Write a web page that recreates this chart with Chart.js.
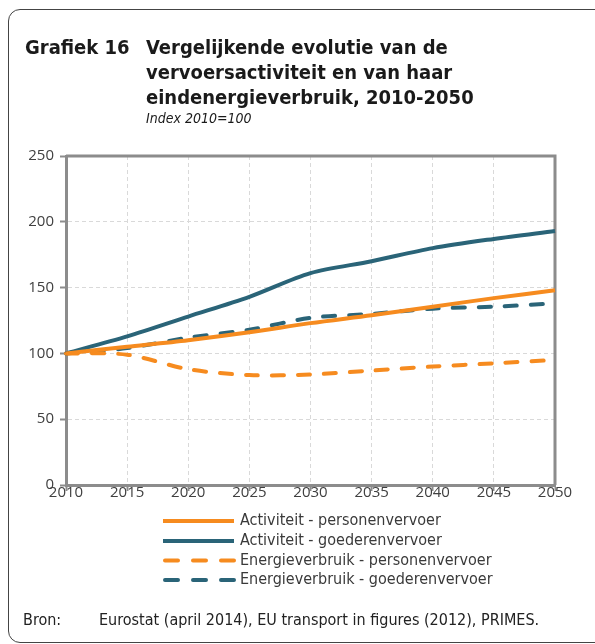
<!DOCTYPE html>
<html>
<head>
<meta charset="utf-8">
<script src="https://cdn.jsdelivr.net/npm/chart.js@4.4.1/dist/chart.umd.min.js"></script>
<style>
  html, body { margin: 0; padding: 0; background: #fff; }
  body { width: 595px; height: 644px; position: relative; overflow: hidden; font-family: "DejaVu Sans Condensed", "DejaVu Sans", sans-serif; }
  #frame { position: absolute; left: 8px; top: 9px; width: 660px; height: 632px; border: 1px solid #444; border-radius: 12px; }
  #chart { position: absolute; left: 0; top: 0; }
  .t { position: absolute; white-space: nowrap; color: #1a1a1a; }
  .title { font-weight: bold; font-size: 20px; line-height: 25px; }
  #num { left: 25px; top: 35px; }
  #tit { left: 146px; top: 35px; }
  #sub { left: 146px; top: 110px; font-style: italic; font-size: 14px; line-height: 16px; }
  .src { top: 610px; font-size: 16px; line-height: 19px; color: #222; }
</style>
</head>
<body>
<div id="frame"></div>
<canvas id="chart" width="595" height="644"></canvas>
<div class="t title" id="num">Grafiek 16</div>
<div class="t title" id="tit">Vergelijkende evolutie van de<br>vervoersactiviteit en van haar<br>eindenergieverbruik, 2010-2050</div>
<div class="t" id="sub">Index 2010=100</div>
<div class="t src" style="left:23px">Bron:</div>
<div class="t src" style="left:99px">Eurostat (april 2014), EU transport in figures (2012), PRIMES.</div>

<script>
// jaren en reeksen (index 2010=100)
var years = ['2010', '2015', '2020', '2025', '2030', '2035', '2040', '2045', '2050'];
var actPersonen = [100, 105, 110, 116, 123, 129, 135.5, 142, 148];
var actGoederen = [100, 113, 128, 143, 161, 170, 180, 187, 193];
var enPersonen  = [100, 99, 88, 83.5, 84, 87, 90, 92.5, 95];
var enGoederen  = [100, 104, 112, 118, 127, 130, 134, 135.5, 138];

var seriesNames = [
    'Activiteit - personenvervoer',
    'Activiteit - goederenvervoer',
    'Energieverbruik - personenvervoer',
    'Energieverbruik - goederenvervoer'
];
var yTicks = [0, 50, 100, 150, 200, 250];

var ORANGE = '#F68B1F';
var TEAL = '#2A6478';
var AXIS = '#8c8c8c';
var DASH = [12, 14];

function serie(label, data, color, dashed) {
    return {
        label: label,
        data: data,
        borderColor: color,
        backgroundColor: color,
        borderWidth: 4,
        borderDash: dashed ? DASH : [],
        borderCapStyle: dashed ? 'round' : 'butt',
        pointRadius: 0,
        tension: 0.3,
        fill: false
    };
}

// kader rond het plotgebied (boven + rechts)
var boxPlugin = {
    id: 'boxPlugin',
    beforeDatasetsDraw: function(chart) {
        var a = chart.chartArea, ctx = chart.ctx;
        ctx.save();
        ctx.strokeStyle = AXIS;
        ctx.lineWidth = 3;
        ctx.beginPath();
        ctx.moveTo(a.left, a.top);
        ctx.lineTo(a.right, a.top);
        ctx.lineTo(a.right, a.bottom);
        ctx.stroke();
        ctx.restore();
    }
};

// legenda onder elkaar, zoals in het origineel
var legendPlugin = {
    id: 'stackLegend',
    afterDraw: function(chart) {
        var ctx = chart.ctx;
        var rows = [521, 541, 560.5, 580];
        ctx.save();
        chart.data.datasets.forEach(function(ds, i) {
            var y = rows[i];
            ctx.strokeStyle = ds.borderColor;
            ctx.lineWidth = 4;
            ctx.lineCap = ds.borderDash.length ? 'round' : 'butt';
            ctx.setLineDash(ds.borderDash.length ? [13, 15] : []);
            ctx.beginPath();
            ctx.moveTo(ds.borderDash.length ? 165 : 163, y);
            ctx.lineTo(234, y);
            ctx.stroke();
            ctx.setLineDash([]);
            ctx.fillStyle = '#3a3a3a';
            ctx.font = '16px "DejaVu Sans Condensed", "DejaVu Sans", sans-serif';
            ctx.textBaseline = 'middle';
            ctx.fillText(ds.label, 240, y);
        });
        ctx.restore();
    }
};

new Chart(document.getElementById('chart'), {
    type: 'line',
    data: {
        labels: years,
        datasets: [
            serie(seriesNames[0], actPersonen, ORANGE, false),
            serie(seriesNames[1], actGoederen, TEAL, false),
            serie(seriesNames[2], enPersonen, ORANGE, true),
            serie(seriesNames[3], enGoederen, TEAL, true)
        ]
    },
    plugins: [boxPlugin, legendPlugin],
    options: {
        responsive: false,
        animation: false,
        layout: { padding: { left: 0, top: 156, right: 40, bottom: 134 } },
        plugins: {
            legend: { display: false },
            tooltip: { enabled: false }
        },
        scales: {
            x: {
                offset: false,
                afterFit: function(s) { s.height = 25; },
                grid: {
                    color: '#d9d9d9',
                    lineWidth: 1,
                    tickLength: 6,
                    tickColor: AXIS,
                    tickWidth: 2
                },
                border: { display: true, color: AXIS, width: 3, dash: [4, 3] },
                ticks: {
                    color: '#404040',
                    font: { family: '"Open Sans", "Noto Sans", sans-serif', size: 15 },
                    padding: -7,
                    maxRotation: 0,
                    autoSkip: false
                }
            },
            y: {
                min: 0,
                max: 250,
                afterFit: function(s) { s.width = 66; },
                afterBuildTicks: function(s) { s.ticks = yTicks.map(function(v) { return { value: v }; }); },
                grid: {
                    color: '#d9d9d9',
                    lineWidth: 1,
                    tickLength: 6,
                    tickColor: AXIS,
                    tickWidth: 2
                },
                border: { display: true, color: AXIS, width: 3, dash: [4, 3] },
                ticks: {
                    color: '#404040',
                    font: { family: '"Open Sans", "Noto Sans", sans-serif', size: 15 },
                    padding: 6
                }
            }
        }
    }
});
</script>
</body>
</html>
